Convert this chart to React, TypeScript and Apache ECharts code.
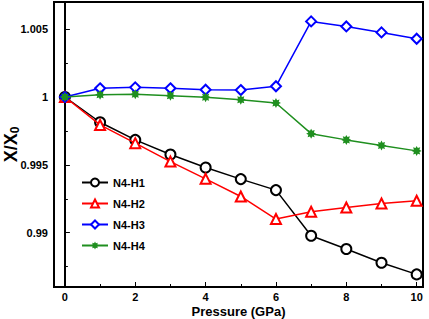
import React, { useEffect, useRef } from "react";
import * as echarts from "echarts";

const pressure = [0, 1, 2, 3, 4, 5, 6, 7, 8, 9, 10];
const seriesNames = ["N4-H1", "N4-H2", "N4-H3", "N4-H4"];
const h1 = [1, 0.99814, 0.99684, 0.99576, 0.9948, 0.99395, 0.99314, 0.98978, 0.9888, 0.98779, 0.98693];
const h2 = [1, 0.99794, 0.9966, 0.99524, 0.99397, 0.99267, 0.99101, 0.99154, 0.99186, 0.99215, 0.99235];
const h3 = [1, 1.00064, 1.00071, 1.00064, 1.00054, 1.00051, 1.00079, 1.00557, 1.0052, 1.00476, 1.00429];
const h4 = [1, 1.00017, 1.0002, 1.0001, 0.99998, 0.9998, 0.99956, 0.9973, 0.99684, 0.99642, 0.99603];
const xMajorTicks = [0, 2, 4, 6, 8, 10];
const xMinorTicks = [1, 3, 5, 7, 9];
const yMajorTicks = [0.99, 0.995, 1, 1.005];
const yMinorTicks = [0.9875, 0.9925, 0.9975, 1.0025];

const STAR =
  "path://M10,0 L12.3,4.46 L17.07,2.93 L15.54,7.7 L20,10 L15.54,12.3 L17.07,17.07 L12.3,15.54 L10,20 L7.7,15.54 L2.93,17.07 L4.46,12.3 L0,10 L4.46,7.7 L2.93,2.93 L7.7,4.46 Z";

export default function App() {
  const ref = useRef<HTMLDivElement>(null);
  useEffect(() => {
    if (!ref.current) return;
    const chart = echarts.init(ref.current, undefined, { renderer: "svg" });
    const font = "'Liberation Sans', Arial, sans-serif";
    const mk = (data: number[]) => data.map((v, i) => [pressure[i], v]);
    const colors = ["#000000", "#ff0000", "#0000ff", "#1f8f1f"];
    const symbols = ["emptyCircle", "emptyTriangle", "emptyDiamond", STAR];
    const sizes = [10, 10, 10, 10];
    const datas = [h1, h2, h3, h4];
    const xMin = -0.31;
    const xMax = 10.18;
    const yMin = 0.986;
    const yMax = 1.007;
    chart.setOption({
      animation: false,
      backgroundColor: "#ffffff",
      textStyle: { fontFamily: font },
      grid: {
        left: 54,
        right: 6,
        top: 2,
        bottom: 32,
        outerBoundsMode: "none",
        containLabel: false,
        show: true,
        borderColor: "#000",
        borderWidth: 2,
        backgroundColor: "transparent",
      },
      legend: {
        orient: "vertical",
        left: 76,
        top: 172,
        itemWidth: 26,
        itemHeight: 10,
        itemGap: 10,
        data: seriesNames,
        textStyle: { fontFamily: font, fontWeight: "bold", fontSize: 11, color: "#000" },
      },
      xAxis: [
        {
          type: "value",
          min: xMin,
          max: xMax,
          name: "Pressure (GPa)",
          nameLocation: "middle",
          nameGap: 18,
          nameMoveOverlap: false,
          nameTextStyle: { fontFamily: font, fontWeight: "bold", fontSize: 13, color: "#000" },
          axisLine: { show: true, lineStyle: { color: "#000", width: 2 } },
          axisTick: { show: true, inside: true, length: 5, customValues: xMajorTicks, lineStyle: { color: "#000", width: 1 } },
          axisLabel: { customValues: xMajorTicks, margin: 4, fontFamily: font, fontWeight: "bold", fontSize: 11, color: "#000" },
          splitLine: { show: false },
        },
        {
          type: "value",
          min: xMin,
          max: xMax,
          position: "bottom",
          axisLine: { show: false },
          axisTick: { show: true, inside: true, length: 3, customValues: xMinorTicks, lineStyle: { color: "#000", width: 1 } },
          axisLabel: { show: false, customValues: xMinorTicks },
          splitLine: { show: false },
        },
      ],
      yAxis: [
        {
          type: "value",
          min: yMin,
          max: yMax,
          name: "{a|X/X}{b|0}",
          nameLocation: "middle",
          nameGap: 33,
          nameMoveOverlap: false,
          nameRotate: 90,
          nameTextStyle: {
            rich: {
              a: { fontFamily: font, fontWeight: "bold", fontSize: 18, color: "#000" },
              b: { fontFamily: font, fontWeight: "bold", fontSize: 12, color: "#000", verticalAlign: "bottom", padding: [8, 0, 0, 0] },
            },
          },
          axisLine: { show: true, lineStyle: { color: "#000", width: 2 } },
          axisTick: { show: true, inside: true, length: 5, customValues: yMajorTicks, lineStyle: { color: "#000", width: 1 } },
          axisLabel: { customValues: yMajorTicks, margin: 6, fontFamily: font, fontWeight: "bold", fontSize: 11, color: "#000" },
          splitLine: { show: false },
        },
        {
          type: "value",
          min: yMin,
          max: yMax,
          position: "left",
          axisLine: { show: false },
          axisTick: { show: true, inside: true, length: 3, customValues: yMinorTicks, lineStyle: { color: "#000", width: 1 } },
          axisLabel: { show: false, customValues: yMinorTicks },
          splitLine: { show: false },
        },
      ],
      series: seriesNames.map((name, k) => ({
        name,
        type: "line",
        data: mk(datas[k]),
        symbol: symbols[k],
        symbolSize: sizes[k],
        color: colors[k],
        lineStyle: { color: colors[k], width: 1.5 },
        itemStyle: k === 3 ? { color: colors[k], borderWidth: 0 } : { color: colors[k], borderWidth: 1.8, borderColor: colors[k] },
        z: 2 + k,
      })),
    });
    return () => chart.dispose();
  }, []);
  return <div ref={ref} style={{ width: 429, height: 319, position: "absolute", left: 0, top: 0 }} />;
}
